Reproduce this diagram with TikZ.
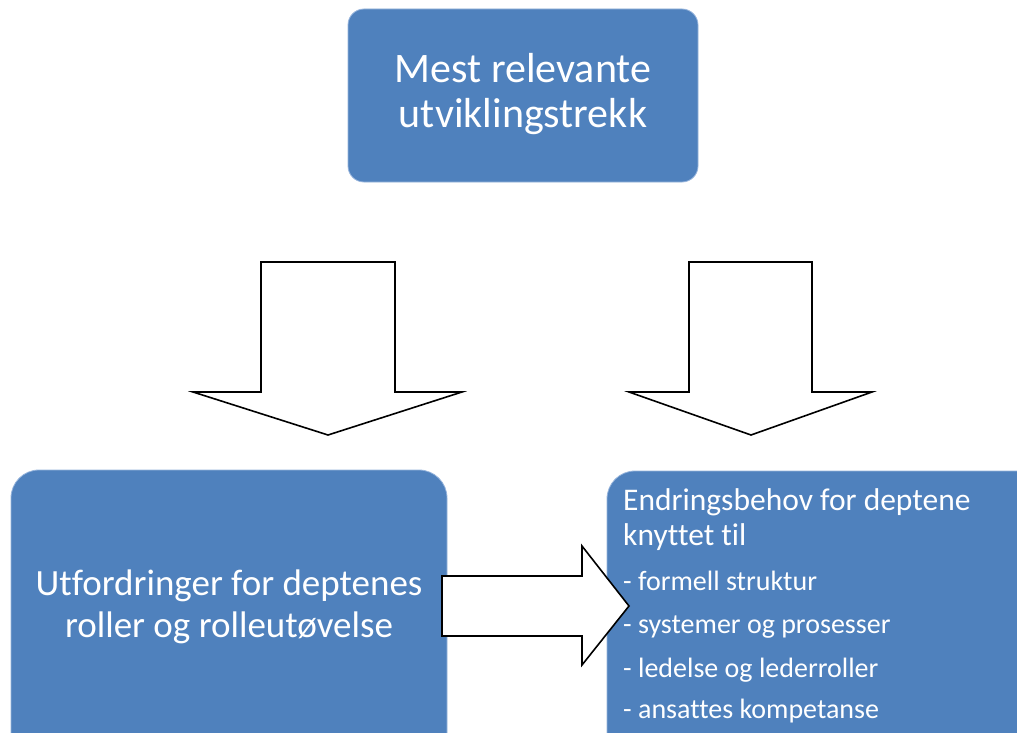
\documentclass[tikz,border=0pt]{standalone}
\usepackage{fontspec}
\setmainfont[Ligatures=NoCommon]{Carlito}
\definecolor{boxblue}{RGB}{79,129,189}
\definecolor{boxedge}{RGB}{150,180,220}
\begin{document}
\begin{tikzpicture}[x=1pt,y=-1pt,
  bluebox/.style={fill=boxblue,draw=boxedge,line width=0.8pt,inner sep=0pt},
  blockarrow/.style={fill=white,draw=black,line width=1.6pt,line join=miter},
  toptext/.style={text=white,font=\fontsize{42}{50}\selectfont,anchor=base,inner sep=0pt},
  lefttext/.style={text=white,font=\fontsize{37}{44}\selectfont,anchor=base,inner sep=0pt},
  righttext/.style={text=white,font=\fontsize{31.5}{38}\selectfont,anchor=base west,inner sep=0pt},
  itemtext/.style={text=white,font=\fontsize{28}{34}\selectfont,anchor=base west,inner sep=0pt}]
\useasboundingbox (0,0) rectangle (1017,733);
\clip (0,0) rectangle (1017,733);
\fill[white] (0,0) rectangle (1017,733);
% boxes
\draw[bluebox,rounded corners=16pt] (348,9) rectangle (698,182);
\coordinate (topbox) at (523,95);
\draw[bluebox,rounded corners=28pt] (11,470) rectangle (447,780);
\draw[bluebox,rounded corners=28pt] (607,471) rectangle (1060,780);
% texts
\node[toptext] (t1) at (523,83) {Mest relevante};
\node[toptext] (t2) at (523,128) {utviklingstrekk};
\node[lefttext] (l1) at (229,595) {Utfordringer for deptenes};
\node[lefttext] (l2) at (229,637) {roller og rolleutøvelse};
\node[righttext] (r1) at (623,510) {Endringsbehov for deptene};
\node[righttext] (r2) at (623,545) {knyttet til};
\node[itemtext] (r3) at (623,590) {- formell struktur};
\node[itemtext] (r4) at (623,633) {- systemer og prosesser};
\node[itemtext] (r5) at (623,677) {- ledelse og lederroller};
\node[itemtext] (r6) at (623,718) {- ansattes kompetanse};
% block arrows
\coordinate (a1tip) at (328,435);
\draw[blockarrow] (261,262) -- (395,262) -- (395,392) -- (462,392) -- (a1tip) -- (193,392) -- (261,392) -- cycle;
\coordinate (a2tip) at (751,435);
\draw[blockarrow] (689,262) -- (812,262) -- (812,392) -- (872,392) -- (a2tip) -- (629,392) -- (689,392) -- cycle;
\coordinate (a3tip) at (629,606);
\draw[blockarrow] (442,576) -- (582,576) -- (582,546) -- (a3tip) -- (582,665) -- (582,636) -- (442,636) -- cycle;
\end{tikzpicture}
\end{document}
